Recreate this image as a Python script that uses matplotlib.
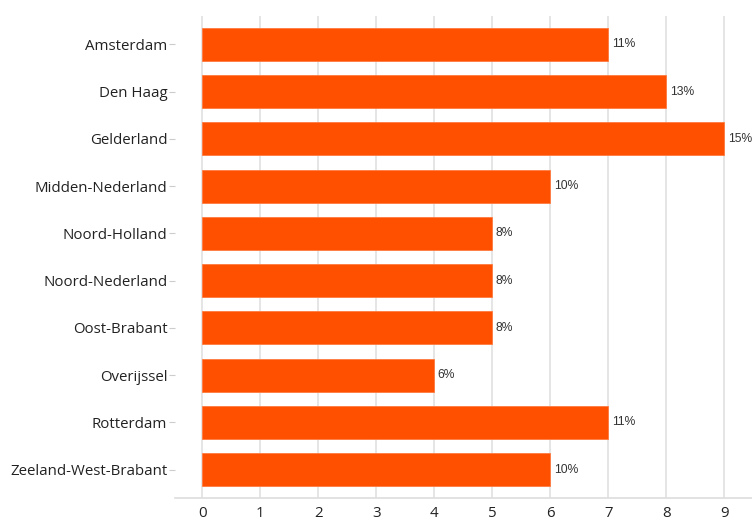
import matplotlib
matplotlib.use("Agg")
import matplotlib.pyplot as plt

categories = ["Amsterdam", "Den Haag", "Gelderland", "Midden-Nederland", "Noord-Holland",
              "Noord-Nederland", "Oost-Brabant", "Overijssel", "Rotterdam", "Zeeland-West-Brabant"]
values = [7, 8, 9, 6, 5, 5, 5, 4, 7, 6]
labels = ["11%", "13%", "15%", "10%", "8%", "8%", "8%", "6%", "11%", "10%"]
xticks = [0, 1, 2, 3, 4, 5, 6, 7, 8, 9]

fig = plt.figure(figsize=(7.52, 5.2), dpi=100)
ax = fig.add_axes([175/752, 22/520, 577/752, 482/520])

y = list(range(len(categories)))
ax.barh(y, values, height=0.7, color="#FF5000", edgecolor="#FF7a40", linewidth=0.6, zorder=3)
for yi, v, lab in zip(y, values, labels):
    ax.text(v + 0.06, yi, lab, va="center", ha="left", fontsize=8.7,
            family="Liberation Sans", color="#333333", zorder=4)

ax.set_ylim(9.6, -0.6)
ax.set_xlim(-0.47, 9.48)
ax.set_yticks(y)
ax.set_yticklabels(categories, family="Open Sans", fontsize=10.8, color="#222222")
ax.set_xticks(xticks)
ax.set_xticklabels([str(t) for t in xticks], family="Open Sans", fontsize=10.8, color="#222222")
ax.tick_params(axis="y", length=4, color="#cccccc", pad=1.5, width=0.8)
ax.tick_params(axis="x", length=0, pad=6)
ax.grid(axis="x", color="#e0e0e0", linewidth=1.2, zorder=0)
for s in ["top", "right", "left"]:
    ax.spines[s].set_visible(False)
ax.spines["bottom"].set_color("#dddddd")
ax.spines["bottom"].set_linewidth(1.2)

fig.savefig("out.png", dpi=100)
